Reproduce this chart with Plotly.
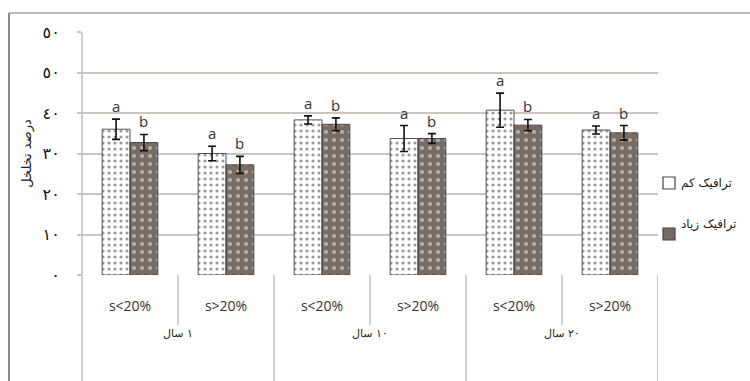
import plotly.graph_objects as go

# Data: porosity (%) by slope class within each age group
age_groups = ["١ سال", "١٠ سال", "٢٠ سال"]
slope_labels = ["s<20%", "s>20%", "s<20%", "s>20%", "s<20%", "s>20%"]
low_traffic = [36.0, 30.0, 38.3, 33.7, 40.7, 35.8]
low_err = [2.5, 1.8, 1.0, 3.2, 4.2, 1.0]
high_traffic = [32.7, 27.2, 37.2, 33.7, 37.0, 35.1]
high_err = [2.0, 2.1, 1.6, 1.2, 1.4, 1.8]
series_names = ["ترافیک کم", "ترافیک زیاد"]
letters = ["a", "b"]
y_tickvals = [0, 10, 20, 30, 40, 50, 60]
y_ticktext = ["٠", "١٠", "٢٠", "٣٠", "٤٠", "٥٠", "٥٠"]
y_title = "درصد تخلخل"

W, H = 750, 381
L, R, T, B = 82, 658, 32, 275  # plot area in pixels
pw, ph = R - L, B - T


def px_x(p):
    return (p - L) / pw


def px_y(p):
    return (B - p) / ph


xs = list(range(len(slope_labels)))
grid_col = "#cbc3bd"
dark_col = "#776b65"
fa = "DejaVu Sans"

fig = go.Figure()
fig.add_trace(go.Bar(
    x=xs, y=low_traffic, name=series_names[0],
    marker=dict(color="white", line=dict(color="#5a514c", width=1),
                pattern=dict(shape=".", fgcolor="#3a3330", bgcolor="white",
                             size=6, solidity=0.22)),
    error_y=dict(type="data", array=low_err, color="#111", thickness=1.6, width=4),
    showlegend=False,
))
fig.add_trace(go.Bar(
    x=xs, y=high_traffic, name=series_names[1],
    marker=dict(color=dark_col, line=dict(color="#4a423e", width=1),
                pattern=dict(shape=".", fgcolor="#f6f3f1", bgcolor=dark_col,
                             size=8, solidity=0.2)),
    error_y=dict(type="data", array=high_err, color="#111", thickness=1.6, width=4),
    showlegend=False,
))

bargap = 0.42
half = (1 - bargap) / 4
annotations = []
for i in xs:
    for k, (vals, errs) in enumerate([(low_traffic, low_err), (high_traffic, high_err)]):
        annotations.append(dict(
            x=i + (-half if k == 0 else half), y=vals[i] + errs[i],
            xref="x", yref="y", text=letters[k], showarrow=False,
            yanchor="bottom", yshift=1,
            font=dict(family="Open Sans", size=15, color="#333")))

# Age group labels under the slope labels
for g, name in enumerate(age_groups):
    annotations.append(dict(
        x=2 * g + 0.5, y=px_y(342), xref="x", yref="paper", text=name,
        showarrow=False, font=dict(family=fa, size=11, color="#222")))

# Custom legend
leg_items = [(183, "white"), (234, dark_col)]
shapes = []
for (cy, col), name in zip(leg_items, series_names):
    shapes.append(dict(type="rect", xref="paper", yref="paper",
                       x0=px_x(663), x1=px_x(675), y0=px_y(cy + 6), y1=px_y(cy - 6),
                       fillcolor=col, line=dict(color="#444", width=1.2)))
    annotations.append(dict(
        x=px_x(679), y=px_y(cy), xref="paper", yref="paper", text=name,
        xanchor="left", showarrow=False,
        font=dict(family=fa, size=12, color="#222")))

# Category dividers below the axis
line_col = "#c6bdb7"
for j in range(len(xs)):
    bottom = 381 if j % 2 == 1 else 325
    shapes.append(dict(type="line", xref="x", yref="paper",
                       x0=j + 0.5, x1=j + 0.5, y0=0, y1=px_y(bottom),
                       line=dict(color=line_col, width=1.5)))
# Vertical axis line running to the bottom
shapes.append(dict(type="line", xref="paper", yref="paper",
                   x0=0, x1=0, y0=1, y1=px_y(381),
                   line=dict(color=line_col, width=1.5)))
# Outer frame (top and left edges)
shapes.append(dict(type="line", xref="paper", yref="paper",
                   x0=px_x(9), x1=px_x(750), y0=px_y(13), y1=px_y(13),
                   line=dict(color="#a9a19c", width=1.5)))
shapes.append(dict(type="line", xref="paper", yref="paper",
                   x0=px_x(9), x1=px_x(9), y0=px_y(13), y1=px_y(381),
                   line=dict(color="#8f8782", width=2)))

fig.update_layout(
    width=W, height=H,
    margin=dict(l=L, r=W - R, t=T, b=H - B),
    paper_bgcolor="white", plot_bgcolor="white",
    barmode="group", bargap=bargap, bargroupgap=0,
    annotations=annotations, shapes=shapes,
    xaxis=dict(range=[-0.5, 5.5], tickvals=xs, ticktext=slope_labels,
               showgrid=False, zeroline=False, showline=False, ticks="",
               ticklabelstandoff=21,
               tickfont=dict(family="Open Sans", size=14, color="#333")),
    yaxis=dict(range=[0, 60], tickvals=y_tickvals, ticktext=y_ticktext,
               showgrid=True, gridcolor=grid_col, gridwidth=1.5,
               zeroline=False, showline=False,
               ticks="outside", ticklen=4, tickcolor=grid_col, tickwidth=1.5,
               ticklabelstandoff=14,
               tickfont=dict(family=fa, size=16, color="#111"),
               title=dict(text=y_title, standoff=8,
                          font=dict(family=fa, size=13, color="#222"))),
)

fig.write_html("out.html")
